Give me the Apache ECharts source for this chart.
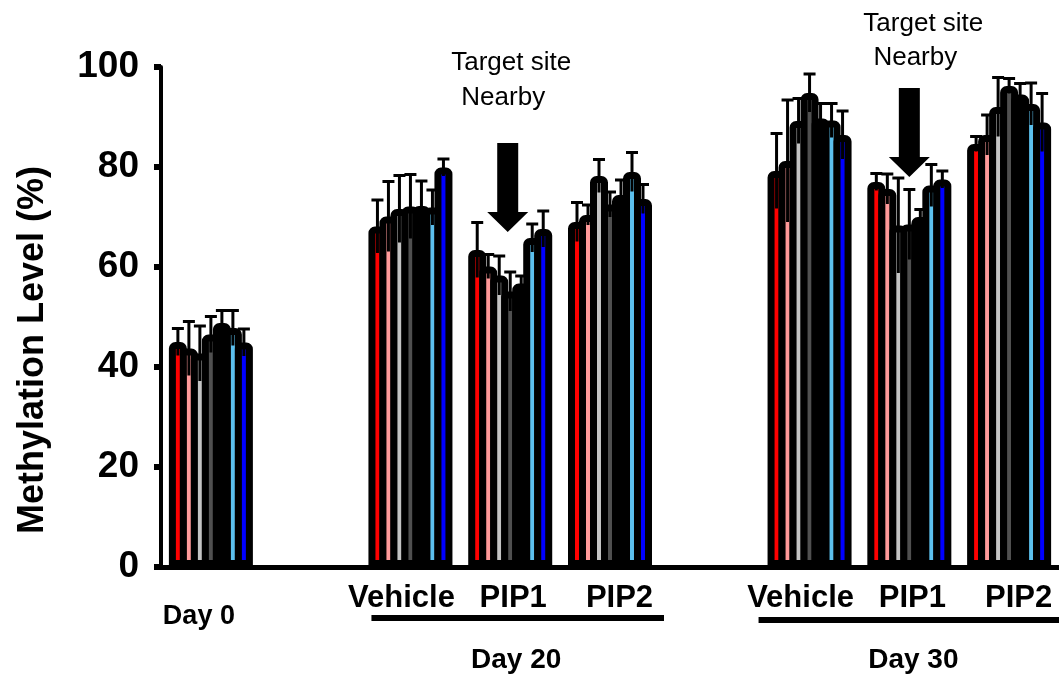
<!DOCTYPE html>
<html>
<head>
<meta charset="utf-8">
<script src="https://cdn.jsdelivr.net/npm/echarts@6/dist/echarts.min.js"></script>
<style>
html,body{margin:0;padding:0;background:#fff;}
#c{width:1059px;height:679px;}
</style>
</head>
<body>
<div id="c"></div>
<script>
// ---- data ----
const categories = ['Day 0', '', 'Vehicle', 'PIP1', 'PIP2', '', 'Vehicle', 'PIP1', 'PIP2'];
const yTicks = [0, 20, 40, 60, 80, 100];
const seriesNames = ['Site 1', 'Site 2', 'Site 3', 'Site 4', 'Site 5', 'Site 6', 'Site 7'];
const site1 = [45.0, '-', 68.1, 63.4, 69.0, '-', 79.2, 77.0, 84.6];
const site2 = [43.7, '-', 70.1, 60.1, 70.4, '-', 81.2, 75.6, 86.4];
const site3 = [42.7, '-', 71.6, 58.3, 78.2, '-', 89.2, 68.3, 92.0];
const site4 = [46.5, '-', 72.1, 55.1, 72.5, '-', 94.8, 68.5, 96.2];
const site5 = [48.8, '-', 72.2, 56.7, 74.4, '-', 89.7, 70.0, 94.5];
const site6 = [47.8, '-', 71.9, 65.8, 79.0, '-', 89.3, 76.3, 92.6];
const site7 = [44.9, '-', 79.9, 67.6, 73.6, '-', 86.4, 77.5, 88.9];
const err1 = [2.7, '-', 5.3, 5.5, 3.9, '-', 7.5, 1.7, 1.5];
const err2 = [5.4, '-', 7.0, 2.4, 2.0, '-', 12.2, 3.0, 4.0];
const err3 = [5.5, '-', 6.7, 3.9, 3.3, '-', 4.5, 9.5, 5.9];
const err4 = [3.6, '-', 6.4, 3.9, 2.5, '-', 3.8, 7.0, 1.5];
const err5 = [2.5, '-', 5.0, 1.5, 3.0, '-', 3.0, 1.5, 2.2];
const err6 = [3.5, '-', 3.5, 2.8, 3.9, '-', 3.4, 4.2, 4.2];
const err7 = [2.7, '-', 1.7, 3.6, 2.9, '-', 4.8, 1.7, 5.8];
const groupLabels = ['Day 20', 'Day 30'];
const noteLines = ['Target site', 'Nearby'];

// ---- build ----
const values = [site1, site2, site3, site4, site5, site6, site7];
const errors = [err1, err2, err3, err4, err5, err6, err7];
const colors = ['#ff0000', '#ff9a9a', '#c4c4c4', '#505050', '#000000', '#5cc0ee', '#0000ff'];
const FONT = "'Liberation Sans', Arial, sans-serif";
const STEP = 11;      // centre-to-centre spacing of bars
const BAR_W = 18;     // outer width incl. border

const errData = [];
values.forEach((arr, si) => {
  arr.forEach((v, ci) => {
    if (v !== '-') errData.push([ci, si, v, errors[si][ci]]);
  });
});

const barSeries = values.map((arr, si) => ({
  name: seriesNames[si],
  type: 'bar',
  data: arr,
  barWidth: BAR_W,
  barGap: ((STEP - BAR_W) / BAR_W * 100).toFixed(2) + '%',
  itemStyle: { color: colors[si], borderColor: '#000', borderWidth: 7, borderRadius: [3, 3, 0, 0] },
  emphasis: { disabled: true },
  silent: true,
  z: 2
}));

const errSeries = {
  type: 'custom',
  data: errData,
  encode: { x: 0, y: 2 },
  z: 5,
  silent: true,
  renderItem: function (params, api) {
    const ci = api.value(0), si = api.value(1), v = api.value(2), e = api.value(3);
    const x = api.coord([ci, v])[0] + (si - 3) * STEP;
    const yT = api.coord([ci, v + e])[1];
    const yB = api.coord([ci, v - e])[1];
    const st = { stroke: '#000', lineWidth: 3 };
    return {
      type: 'group',
      children: [
        { type: 'line', shape: { x1: x, y1: yB, x2: x, y2: yT }, style: st },
        { type: 'line', shape: { x1: x - 6, y1: yT, x2: x + 6, y2: yT }, style: st }
      ]
    };
  }
};

const labelKeys = ['d0', 'n', 'veh', 'p1', 'p2', 'n', 'veh', 'p1', 'p2'];
const lblBase = { fontFamily: FONT, fontWeight: 'bold', color: '#000', fontSize: 31 };

const chart = echarts.init(document.getElementById('c'), null, { renderer: 'canvas' });
chart.setOption({
  animation: false,
  backgroundColor: '#fff',
  grid: { left: 161, top: 67, width: 900, height: 500, containLabel: false },
  xAxis: {
    type: 'category',
    data: categories,
    axisLine: { lineStyle: { color: '#000', width: 5 } },
    axisTick: { show: false },
    axisLabel: {
      interval: 0,
      margin: 16,
      formatter: function (val, idx) { return val ? '{' + labelKeys[idx] + '|' + val + '}' : ''; },
      rich: {
        d0: Object.assign({}, lblBase, { fontSize: 27, padding: [20, 24, 0, 0] }),
        veh: Object.assign({}, lblBase, { padding: [0, 18, 0, 0] }),
        p1: Object.assign({}, lblBase, { padding: [0, 0, 0, 6] }),
        p2: Object.assign({}, lblBase, { padding: [0, 0, 0, 19] }),
        n: lblBase
      }
    },
    splitLine: { show: false }
  },
  yAxis: {
    type: 'value',
    min: yTicks[0],
    max: yTicks[yTicks.length - 1],
    interval: 20,
    name: 'Methylation Level (%)',
    nameLocation: 'middle',
    nameGap: 110,
    nameRotate: 90,
    nameTextStyle: { fontFamily: FONT, fontWeight: 'bold', fontSize: 36, color: '#000', padding: [0, 66, 0, 0] },
    axisLine: { show: true, lineStyle: { color: '#000', width: 4 } },
    axisTick: { show: true, inside: false, length: 7, lineStyle: { color: '#000', width: 6 } },
    axisLabel: { fontFamily: FONT, fontWeight: 'bold', fontSize: 37, color: '#000', margin: 22 },
    splitLine: { show: false }
  },
  series: barSeries.concat([errSeries])
});

// ---- annotations placed from axis positions ----
function cx(i) { return chart.convertToPixel({ xAxisIndex: 0 }, i); }
function arrow(x, tipY) {
  return {
    type: 'polygon', silent: true, z: 10,
    shape: { points: [[x - 10.5, tipY - 89], [x + 10.5, tipY - 89], [x + 10.5, tipY - 20], [x + 20.5, tipY - 20], [x, tipY], [x - 20.5, tipY - 20], [x - 10.5, tipY - 20]] },
    style: { fill: '#000' }
  };
}
function txt(t, x, y, size, weight) {
  return { type: 'text', silent: true, z: 10, x: x, y: y,
    style: { text: t, fill: '#000', font: weight + ' ' + size + 'px ' + FONT, align: 'center', verticalAlign: 'middle' } };
}
function uline(x1, x2, y) {
  return { type: 'rect', silent: true, z: 10, shape: { x: x1, y: y - 3, width: x2 - x1, height: 6 }, style: { fill: '#000' } };
}
const g = [];
g.push(uline(cx(2) - 39, cx(4) + 54, 618));
g.push(uline(cx(6) - 51, cx(8) + 54, 620));
g.push(txt(groupLabels[0], cx(3) + 6, 660, 28, 'bold'));
g.push(txt(groupLabels[1], cx(7) + 4, 660, 28, 'bold'));
g.push(arrow(cx(3) - 2.5, 232));
g.push(arrow(cx(7), 177));
g.push(txt(noteLines[0], cx(3) + 1, 63, 26, 'normal'));
g.push(txt(noteLines[1], cx(3) - 7, 98, 26, 'normal'));
g.push(txt(noteLines[0], cx(7) + 14, 24, 26, 'normal'));
g.push(txt(noteLines[1], cx(7) + 6, 58, 26, 'normal'));
chart.setOption({ graphic: g });
</script>
</body>
</html>
